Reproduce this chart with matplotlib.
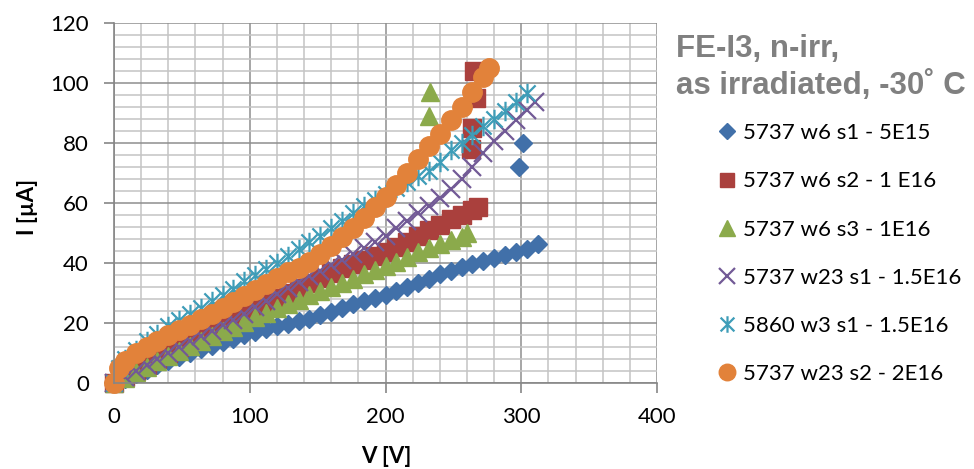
import matplotlib
matplotlib.use("Agg")
import matplotlib.pyplot as plt
from matplotlib.path import Path
from matplotlib.ticker import MultipleLocator

# ---------------- data ----------------
v_w6s1 = [0, 8, 16, 24, 32, 40, 48, 56, 64, 72, 80, 88, 96, 104, 112, 120, 128, 136, 144, 152,
          160, 168, 176, 184, 192, 200, 208, 216, 224, 232, 240, 248, 256, 264, 272, 280, 288,
          296, 304, 312, 298, 301]
i_w6s1 = [0, 1.5, 3, 4.5, 6, 7.5, 8.8, 10, 11.3, 12.5, 13.7, 14.8, 15.9, 17, 18, 19, 19.8, 20.6,
          21.5, 22.6, 23.8, 25, 26.2, 27.2, 28.2, 29.3, 30.6, 32, 33.4, 34.8, 36.2, 37.5, 38.6,
          39.7, 40.6, 41.6, 42.6, 43.6, 44.8, 46.2, 72, 80]

v_w6s2 = [0, 8, 16, 24, 32, 40, 48, 56, 64, 72, 80, 88, 96, 104, 112, 120, 128, 136, 144, 152,
          160, 168, 176, 184, 192, 200, 208, 216, 224, 232, 240, 248, 256, 264, 268,
          263, 264, 267, 265]
i_w6s2 = [0, 2, 4, 6, 8, 10, 12, 14, 15.8, 17.6, 19.4, 21.2, 23, 24.8, 26.6, 28.4, 30, 31.7,
          33.3, 35, 36.6, 38.2, 39.6, 41, 42.3, 43.6, 45.2, 47, 49, 51, 52.8, 54.5, 56, 57.5,
          58.5, 78, 85, 95, 104]

v_w6s3 = [0, 8, 16, 24, 32, 40, 48, 56, 64, 72, 80, 88, 96, 104, 112, 120, 128, 136, 144, 152,
          160, 168, 176, 184, 192, 200, 208, 216, 224, 232, 240, 248, 256, 260, 232, 233]
i_w6s3 = [0, 1.8, 3.6, 5.4, 7.2, 9, 10.8, 12.4, 14, 15.6, 17.2, 18.8, 20.4, 22, 23.5, 25, 26.4,
          27.8, 29.2, 30.6, 32, 33.4, 34.8, 36.2, 37.6, 39, 40.5, 42, 43.5, 45, 46.3, 47.5, 48.8,
          50, 89, 97]

v_w23s1 = [0, 8, 16, 24, 32, 40, 48, 56, 64, 72, 80, 88, 96, 104, 112, 120, 128, 136, 144, 152,
           160, 168, 176, 184, 192, 200, 208, 216, 224, 232, 240, 248, 256, 264, 272, 280, 288,
           296, 304, 310]
i_w23s1 = [0, 2, 4, 6, 8, 10, 12, 14, 15.6, 17.4, 19.2, 21, 23, 25.2, 27.4, 29.6, 31.6, 33.6,
           35.6, 37.4, 39.2, 41, 43, 45, 47, 49, 51.5, 54, 56.5, 59, 61.5, 64.5, 68, 72, 76.5,
           80.5, 84, 87.5, 91, 93.5]

v_w3s1 = [0, 4, 8, 16, 24, 32, 40, 48, 56, 64, 72, 80, 88, 96, 104, 112, 120, 128, 136, 144,
          152, 160, 168, 176, 184, 192, 200, 208, 216, 224, 232, 240, 248, 256, 264, 272, 280,
          288, 296, 304]
i_w3s1 = [0, 5, 8, 11, 14, 16.5, 19, 21, 23, 25, 27.5, 29.5, 31.5, 34, 36, 38, 40, 42.3, 44.5,
          47, 49, 51.5, 54, 56.5, 59, 61, 63, 65, 67, 69, 70.5, 73.5, 77.5, 80, 82.5, 85.5, 88,
          90.5, 93.5, 96.5]

v_w23s2 = [0, 4, 8, 16, 24, 32, 40, 48, 56, 64, 72, 80, 88, 96, 104, 112, 120, 128, 136, 144,
           152, 160, 168, 176, 184, 192, 200, 208, 216, 224, 232, 240, 248, 256, 264, 272, 276]
i_w23s2 = [0, 5, 7.5, 10, 12, 14, 16, 17.7, 19.5, 21.2, 23, 25, 27, 29, 31, 33, 35, 37, 38.5,
           40.5, 43, 45.5, 48.5, 51.5, 55, 58.5, 62, 66, 70, 74.5, 79, 83, 87.5, 92, 97, 102, 105]

labels = ["5737 w6 s1 - 5E15", "5737 w6 s2 - 1 E16", "5737 w6 s3 - 1E16",
          "5737 w23 s1 - 1.5E16", "5860 w3 s1 - 1.5E16", "5737 w23 s2 - 2E16"]
title_lines = ["FE-I3, n-irr,", "as irradiated, -30˚ C"]
x_ticks = [0, 100, 200, 300, 400]
y_ticks = [0, 20, 40, 60, 80, 100, 120]

# ---------------- style ----------------
FONT = "Lato"
C_BLUE = "#4170A9"
C_RED = "#AA403D"
C_GREEN = "#8BAA4B"
C_PURPLE = "#725A96"
C_CYAN = "#3E9DB8"
C_ORANGE = "#E2823A"

# asterisk marker: X plus vertical line
ast = Path([(-0.5, -0.5), (0.5, 0.5), (-0.5, 0.5), (0.5, -0.5), (0, -0.6), (0, 0.6)],
           [Path.MOVETO, Path.LINETO, Path.MOVETO, Path.LINETO, Path.MOVETO, Path.LINETO])

fig = plt.figure(figsize=(9.74, 4.69), dpi=100)
W, H = 974, 469
x0, x1, ytop, ybot = 114, 657, 23, 383
ax = fig.add_axes([x0 / W, 1 - ybot / H, (x1 - x0) / W, (ybot - ytop) / H])

ax.set_xlim(0, 400)
ax.set_ylim(0, 120)
ax.xaxis.set_major_locator(MultipleLocator(100))
ax.xaxis.set_minor_locator(MultipleLocator(20))
ax.yaxis.set_major_locator(MultipleLocator(20))
ax.yaxis.set_minor_locator(MultipleLocator(4))
ax.set_xticks(x_ticks)
ax.set_yticks(y_ticks)
ax.grid(which="major", color="#8E8E8E", linewidth=1.1)
ax.grid(which="minor", color="#C4C4C4", linewidth=1.1)
ax.set_axisbelow(True)
for s in ["top", "right"]:
    ax.spines[s].set_visible(False)
for s in ["left", "bottom"]:
    ax.spines[s].set_color("#868686")
    ax.spines[s].set_linewidth(1.2)
ax.tick_params(which="major", direction="out", length=7, width=1.2, color="#868686",
               labelsize=16, labelcolor="black")
ax.tick_params(axis="y", pad=11)
ax.tick_params(axis="x", pad=10)
ax.tick_params(which="minor", length=0)
for lab in ax.get_xticklabels() + ax.get_yticklabels():
    lab.set_fontfamily(FONT)

kw = dict(linestyle="none", clip_on=False)
h1, = ax.plot(v_w6s1, i_w6s1, marker="D", ms=9.5, color=C_BLUE, mec=C_BLUE, **kw)
h2, = ax.plot(v_w6s2, i_w6s2, marker="s", ms=12.5, color=C_RED, mec=C_RED, **kw)
h3, = ax.plot(v_w6s3, i_w6s3, marker="^", ms=13, color=C_GREEN, mec=C_GREEN, **kw)
h4, = ax.plot(v_w23s1, i_w23s1, marker="x", ms=13.5, mew=1.6, color=C_PURPLE, **kw)
h5, = ax.plot(v_w3s1, i_w3s1, marker=ast, ms=14, mew=1.6, color=C_CYAN, **kw)
h6, = ax.plot(v_w23s2, i_w23s2, marker="o", ms=14, color=C_ORANGE, mec=C_ORANGE, **kw)

ax.set_xlabel("V [V]", fontfamily=FONT, fontweight="bold", fontsize=16)
ax.set_ylabel("I [µA]", fontfamily=FONT, fontweight="bold", fontsize=16)
ax.xaxis.set_label_coords(0.502, -0.175)
ax.yaxis.set_label_coords(-0.14, 0.49)

fig.text(676 / W, 1 - 49 / H, title_lines[0], fontfamily="Liberation Sans", fontweight="bold",
         fontsize=22.5, color="#808080", ha="left", va="center")
fig.text(676 / W, 1 - 86 / H, title_lines[1], fontfamily="Liberation Sans", fontweight="bold",
         fontsize=22.5, color="#808080", ha="left", va="center")

leg = fig.legend([h1, h2, h3, h4, h5, h6], labels, loc="upper left",
                 bbox_to_anchor=(706 / W, 1 - 112 / H), frameon=False,
                 prop={"family": FONT, "size": 16}, labelspacing=1.27,
                 handlelength=0.9, handletextpad=0.28, borderpad=0, markerscale=0.85)

fig.savefig("out.png", dpi=100)
